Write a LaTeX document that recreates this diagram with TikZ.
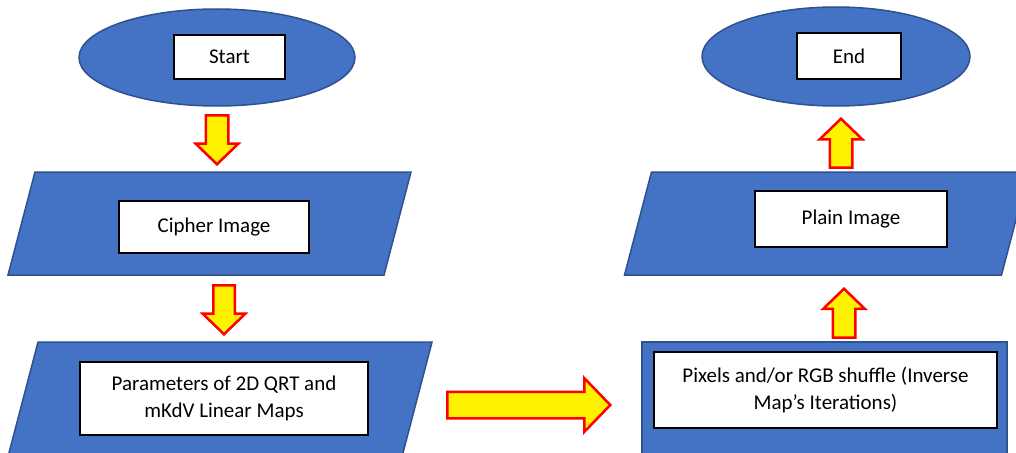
\documentclass[tikz,border=0pt]{standalone}
\usepackage{fontspec}
\setmainfont{Carlito}
\usetikzlibrary{shapes.geometric, shapes.arrows}

\definecolor{flowblue}{HTML}{4472C4}
\definecolor{flowedge}{HTML}{2F528F}

\begin{document}
\begin{tikzpicture}[
    x=1pt, y=-1pt,
    every node/.style={font=\fontsize{21}{27.5}\selectfont, inner sep=0pt},
    terminal/.style={ellipse, draw=flowedge, fill=flowblue, line width=1.5pt},
    procbox/.style={rectangle, draw=flowedge, fill=flowblue, line width=1.5pt},
    iobox/.style={procbox, xslant=0.262},
    textbox/.style={rectangle, draw=black, fill=white, line width=1.2pt, align=center},
    blockarrow/.style={single arrow, draw=red, fill=yellow, line width=2.5pt,
        single arrow tip angle=92, anchor=tip}
]
\useasboundingbox (0,0) rectangle (1016,452);
\clip (0,0) rectangle (1016,452);

% Left column
\node[terminal, minimum width=276pt, minimum height=97pt] (startshape) at (217,57.5) {};
\node[textbox, minimum width=111pt, minimum height=44pt] (start) at (229.5,57) {Start};

\node[iobox, minimum width=376pt, minimum height=103pt] (ciphershape) at (209.5,223.5) {};
\node[textbox, minimum width=190pt, minimum height=52pt] (cipher) at (214,227) {Cipher Image};

\node[iobox, minimum width=394pt, minimum height=130pt] (paramshape) at (218,407) {};
\node[textbox, minimum width=288pt, minimum height=73pt] (params) at (224,398.5)
    {Parameters of 2D QRT and\\mKdV Linear Maps};

% Right column
\node[terminal, minimum width=268pt, minimum height=99pt] (endshape) at (836,56.5) {};
\node[textbox, minimum width=104pt, minimum height=46pt] (end) at (849,56) {End};

\node[iobox, minimum width=377pt, minimum height=103pt] (plainshape) at (826.5,223.5) {};
\node[textbox, minimum width=192pt, minimum height=56pt] (plain) at (851,219) {Plain Image};

\node[procbox, minimum width=365pt, minimum height=130pt] (shuffleshape) at (824.5,407) {};
\node[textbox, minimum width=343pt, minimum height=76pt] (shuffle) at (825.5,390)
    {Pixels and/or RGB shuffle (Inverse\\Map’s Iterations)};

% Block arrows
\node[blockarrow, shape border rotate=270, minimum height=49pt, inner sep=10pt,
    single arrow head extend=10pt] (down1) at (217,166) {};
\node[blockarrow, shape border rotate=270, minimum height=49pt, inner sep=9.5pt,
    single arrow head extend=10.5pt] (down2) at (224,336) {};
\node[blockarrow, minimum height=163pt, inner sep=12pt,
    single arrow head extend=13.5pt] (across) at (612,405) {};
\node[blockarrow, shape border rotate=90, minimum height=49pt, inner sep=10pt,
    single arrow head extend=9.5pt] (up1) at (844,287) {};
\node[blockarrow, shape border rotate=90, minimum height=49pt, inner sep=10pt,
    single arrow head extend=10pt] (up2) at (841,117) {};
\end{tikzpicture}
\end{document}
